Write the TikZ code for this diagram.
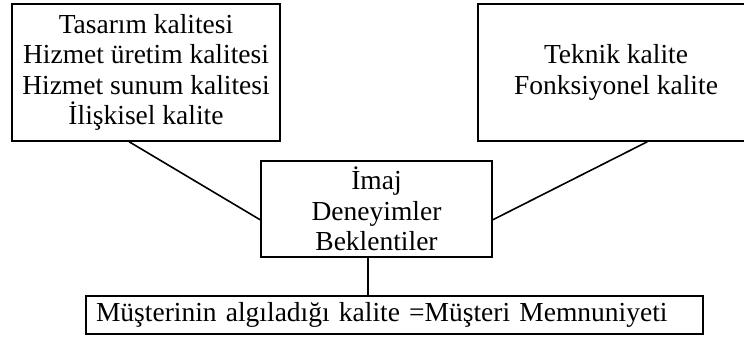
\documentclass[tikz,border=0pt]{standalone}
\usepackage{fontspec}
\setmainfont{Liberation Serif}
\usetikzlibrary{calc}
\begin{document}
\begin{tikzpicture}[x=1pt,y=-1pt,
  box/.style={draw=black, line width=1.6pt, inner sep=0pt, align=center,
    font=\fontsize{27.5}{30.5}\selectfont},
  link/.style={line width=1.6pt}]
\useasboundingbox (0,0) rectangle (744,339);
\clip (0,0) rectangle (744,339);
\fill[white] (0,0) rectangle (744,339);

% quality dimensions
\node[box, minimum width=268pt, minimum height=137pt] (lbox) at (146,72.5)
  {Tasarım kalitesi\\Hizmet üretim kalitesi\\Hizmet sunum kalitesi\\İlişkisel kalite};
\node[box, minimum width=276pt, minimum height=137pt] (rbox) at (616,72.5)
  {Teknik kalite\\Fonksiyonel kalite};

% image, experience, expectations
\node[box, minimum width=231pt, minimum height=96pt] (mid) at (376.5,209)
  {İmaj\\Deneyimler\\Beklentiler};

% outcome
\node[box, minimum width=617pt, minimum height=38pt, text width=597pt,
  align=left] (bot) at (394.5,315)
  {Müşterinin algıladığı kalite =Müşteri Memnuniyeti};

% connectors
\draw[link] ($(lbox.south west)+(118,0)$) -- ($(mid.south west)+(0,-38)$);
\draw[link] ($(rbox.south west)+(170,0)$) -- ($(mid.south east)+(0,-38)$);
\draw[link] ($(mid.south west)+(108,0)$) -- ($(bot.north west)+(283,0)$);
\end{tikzpicture}
\end{document}
